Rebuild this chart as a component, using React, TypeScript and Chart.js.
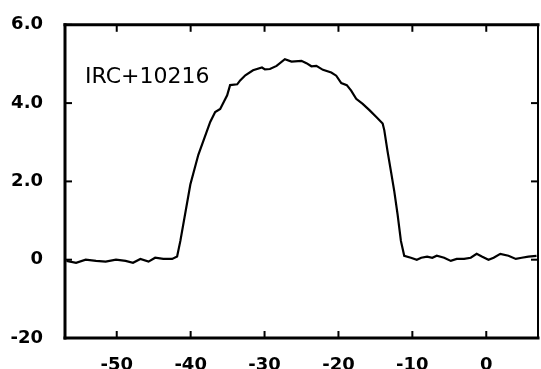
import React, { useEffect, useRef } from "react";
import { Chart, registerables } from "chart.js";

Chart.register(...registerables);

const velocity = [
  -56.8, -55.5, -54.2, -52.8, -51.5, -50.1, -48.8, -47.8, -46.8, -45.7, -44.8, -43.7, -42.5,
  -41.83, -41.39, -40.04, -38.96, -37.35, -36.68, -36.0, -35.06, -34.66, -33.7, -33.3, -32.6,
  -31.56, -30.35, -29.95, -29.27, -28.37, -27.25, -26.35, -25.01, -24.33, -23.66, -22.99,
  -22.1, -20.97, -20.3, -19.62, -18.87, -18.28, -17.6, -16.72, -15.81, -14.91, -14.02, -13.8,
  -13.35, -12.89, -12.45, -12.0, -11.55, -11.1, -10.2, -9.4, -8.8, -8.0, -7.3, -6.7, -5.7,
  -4.8, -4.0, -3.0, -2.1, -1.3, -0.6, 0.3, 1.0, 1.9, 3.0, 4.0, 4.8, 5.7, 6.8,
];
const intensity = [
  -0.03, -0.08, 0.0, -0.03, -0.05, 0.0, -0.03, -0.08, 0.02, -0.05, 0.05, 0.02, 0.02,
  0.08, 0.48, 1.92, 2.68, 3.52, 3.77, 3.85, 4.2, 4.46, 4.48, 4.58, 4.71,
  4.84, 4.91, 4.86, 4.87, 4.95, 5.12, 5.06, 5.08, 5.02, 4.94, 4.95,
  4.85, 4.78, 4.7, 4.51, 4.46, 4.32, 4.11, 3.98, 3.82, 3.65, 3.48, 3.31,
  2.76, 2.25, 1.75, 1.16, 0.48, 0.1, 0.05, 0.0, 0.05, 0.08, 0.05, 0.1, 0.05,
  -0.03, 0.02, 0.02, 0.05, 0.15, 0.08, 0.0, 0.05, 0.15, 0.1, 0.02, 0.05, 0.08, 0.1,
];

const xTickValues = [-50, -40, -30, -20, -10, 0];
const xTickLabels = ["-50", "-40", "-30", "-20", "-10", "0"];
const yTickValues = [-2, 0, 2, 4, 6];
const yTickLabels = ["-20", "0", "2.0", "4.0", "6.0"];
const sourceName = "IRC+10216";
const labelPosition = { x: -54.3, y: 4.66 };

const framePlugin = {
  id: "frameTicks",
  afterDraw(chart: any) {
    const { ctx, chartArea, scales } = chart;
    const { left, right, top, bottom } = chartArea;
    ctx.save();
    ctx.strokeStyle = "#000";
    ctx.lineCap = "square";
    const line = (x1: number, y1: number, x2: number, y2: number, w: number) => {
      ctx.lineWidth = w;
      ctx.beginPath();
      ctx.moveTo(x1, y1);
      ctx.lineTo(x2, y2);
      ctx.stroke();
    };
    line(left, top, left, bottom, 3);
    line(left, bottom, right, bottom, 3);
    line(left, top, right, top, 3);
    line(right, top, right, bottom, 2);
    ctx.lineCap = "butt";
    const tl = 7;
    xTickValues.forEach((v) => {
      const px = scales.x.getPixelForValue(v);
      line(px, bottom, px, bottom - tl, 2);
      line(px, top, px, top + tl, 2);
    });
    yTickValues.forEach((v) => {
      const py = scales.y.getPixelForValue(v);
      line(left, py, left + tl, py, 2);
      line(right, py, right - tl, py, 2);
    });
    ctx.fillStyle = "#000";
    ctx.font = "22px 'DejaVu Sans'";
    ctx.textBaseline = "middle";
    ctx.textAlign = "left";
    ctx.fillText(
      sourceName,
      scales.x.getPixelForValue(labelPosition.x),
      scales.y.getPixelForValue(labelPosition.y)
    );
    ctx.restore();
  },
};

export default function App() {
  const ref = useRef<HTMLCanvasElement | null>(null);
  useEffect(() => {
    if (!ref.current) return;
    const data = velocity.map((v, i) => ({ x: v, y: intensity[i] }));
    const chart = new Chart(ref.current, {
      type: "line",
      data: {
        datasets: [
          {
            data,
            borderColor: "#000",
            borderWidth: 2.2,
            pointRadius: 0,
            tension: 0,
            fill: false,
          },
        ],
      },
      options: {
        animation: false,
        responsive: false,
        maintainAspectRatio: false,
        layout: { padding: { top: 22, right: 3, left: 0, bottom: 0 } },
        plugins: { legend: { display: false }, tooltip: { enabled: false }, title: { display: false } },
        scales: {
          x: {
            type: "linear",
            min: -57,
            max: 7,
            grid: { display: false },
            border: { display: false },
            afterBuildTicks: (scale: any) => {
              scale.ticks = xTickValues.map((v) => ({ value: v }));
            },
            afterFit: (scale: any) => {
              scale.height = 31;
            },
            ticks: {
              autoSkip: false,
              maxRotation: 0,
              padding: 9,
              color: "#000",
              font: { family: "'DejaVu Sans'", size: 18, weight: "bold" },
              callback: (v: any) => {
                const i = xTickValues.indexOf(Number(v));
                return i >= 0 ? xTickLabels[i] : "";
              },
            },
          },
          y: {
            type: "linear",
            min: -2,
            max: 6,
            grid: { display: false },
            border: { display: false },
            afterBuildTicks: (scale: any) => {
              scale.ticks = yTickValues.map((v) => ({ value: v }));
            },
            afterFit: (scale: any) => {
              scale.width = 65;
            },
            ticks: {
              autoSkip: false,
              padding: 14,
              color: "#000",
              font: { family: "'DejaVu Sans'", size: 18, weight: "bold" },
              callback: (v: any) => {
                const i = yTickValues.indexOf(Number(v));
                return i >= 0 ? yTickLabels[i] : "";
              },
            },
          },
        },
      },
      plugins: [framePlugin],
    });
    return () => chart.destroy();
  }, []);
  return (
    <div style={{ position: "fixed", left: 0, top: 0, width: 541, height: 369, background: "#fff" }}>
      <canvas ref={ref} width={541} height={369} style={{ display: "block" }} />
    </div>
  );
}
